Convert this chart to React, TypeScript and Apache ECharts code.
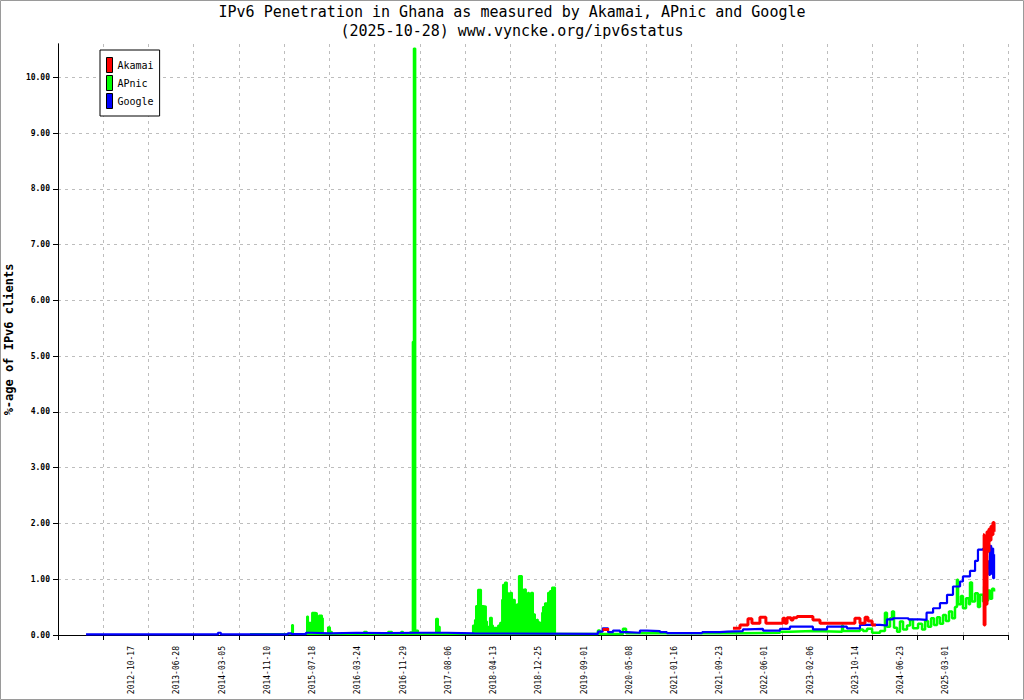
import { useEffect, useRef } from 'react';
import * as echarts from 'echarts';

// x values are sample days counted from the left end of the axis, one tick every 250 days
const xTickLabels = [
  '2012-10-17', '2013-06-28', '2014-03-05', '2014-11-10', '2015-07-18',
  '2016-03-24', '2016-11-29', '2017-08-06', '2018-04-13', '2018-12-25',
  '2019-09-01', '2020-05-08', '2021-01-16', '2021-09-23', '2022-06-01',
  '2023-02-06', '2023-10-14', '2024-06-23', '2025-03-01',
];
const firstLabelDay = 500;
const labelLead = 93; // labels sit a little to the left of their tick

const akamai: [number, number | null][] = [
  [3010, 0.1], [3040, 0.1], [3045, null],
  [3730, 0.12], [3769, 0.18], [3813, 0.29], [3835, 0.21], [3879, 0.32], [3912, 0.21],
  [4006, 0.3], [4017, 0.21], [4029, 0.31], [4051, 0.27], [4062, 0.31], [4084, 0.33],
  [4172, 0.27], [4211, 0.21], [4404, 0.3], [4432, 0.21], [4460, 0.32], [4476, 0.25],
  [4499, 0.18], [4515, 0.18], [4520, null],
  [5112, 1.8], [5118, 0.18], [5123, 1.75], [5129, 0.55], [5134, 1.85], [5140, 1.5],
  [5145, 1.9], [5151, 1.7], [5156, 1.95], [5162, 1.8], [5167, 2.02], [5173, 1.85],
];

// APnic up to the end of 2018 (drawn filled, the daily values swing down to zero)
const apnicEarly: [number, number][] = [
  [1061, 0.02], [1293, 0.18], [1299, 0.02], [1376, 0.33], [1382, 0.22], [1404, 0.4],
  [1420, 0.39], [1431, 0.13], [1442, 0.35], [1459, 0.3], [1464, 0.02], [1492, 0.14],
  [1503, 0.06], [1514, 0.02], [1691, 0.06], [1707, 0.02], [1824, 0.06], [1846, 0.02],
  [1896, 0.06], [1907, 0.02], [1945, 0.05], [1956, 0.02], [1960, 5.26], [1966, 10.52],
  [1975, 0.08], [1990, 0.02], [2089, 0.29], [2100, 0.15], [2110, 0.02],
  [2293, 0.17], [2304, 0.27], [2310, 0.52], [2321, 0.81], [2338, 0.52], [2349, 0.51],
  [2365, 0.24], [2371, 0.15], [2387, 0.31], [2398, 0.17], [2404, 0.13], [2432, 0.17],
  [2443, 0.22], [2454, 0.63], [2459, 0.9], [2470, 0.94], [2481, 0.76], [2487, 0.7],
  [2498, 0.76], [2509, 0.63], [2525, 0.45], [2536, 0.55], [2547, 1.06], [2564, 0.81],
  [2570, 0.82], [2586, 0.48], [2597, 0.76], [2603, 0.6], [2614, 0.76], [2625, 0.37],
  [2636, 0.27], [2647, 0.28], [2652, 0.23], [2664, 0.13], [2675, 0.4], [2680, 0.5],
  [2691, 0.57], [2702, 0.46], [2708, 0.76], [2719, 0.79], [2730, 0.85], [2747, 0.02],
];

const apnicLate: [number, number][] = [
  [2747, 0.02], [2984, 0.08], [2995, 0.02], [3122, 0.11], [3139, 0.03], [3769, 0.04],
  [3990, 0.06], [4045, 0.07], [4172, 0.06], [4333, 0.17], [4338, 0.07], [4432, 0.1],
  [4449, 0.07], [4471, 0.11], [4499, 0.04], [4543, 0.07], [4570, 0.4], [4581, 0.15],
  [4598, 0.3], [4609, 0.42], [4620, 0.13], [4637, 0.06], [4653, 0.24], [4670, 0.1],
  [4692, 0.17], [4709, 0.27], [4725, 0.12], [4753, 0.2], [4775, 0.1], [4792, 0.25],
  [4808, 0.15], [4825, 0.3], [4841, 0.18], [4858, 0.32], [4874, 0.2], [4891, 0.36],
  [4907, 0.25], [4924, 0.42], [4941, 0.3], [4957, 0.5], [4968, 0.99], [4974, 0.55],
  [4990, 0.7], [5001, 0.48], [5018, 0.66], [5034, 0.55], [5040, 0.94], [5051, 0.6],
  [5068, 0.75], [5084, 0.5], [5095, 0.72], [5112, 0.6], [5118, 0.87], [5129, 0.62],
  [5140, 0.8], [5151, 0.65], [5162, 0.83], [5173, 0.78],
];

const google: [number, number][] = [
  [155, 0.01], [884, 0.04], [900, 0.01], [1270, 0.03], [1290, 0.015], [1370, 0.04],
  [1400, 0.03], [1500, 0.04], [1650, 0.035], [1800, 0.04], [2000, 0.04], [2150, 0.035],
  [2230, 0.03], [2300, 0.02], [2950, 0.02], [2984, 0.06], [3010, 0.12], [3040, 0.05],
  [3067, 0.08], [3106, 0.05], [3144, 0.04], [3216, 0.08], [3255, 0.07], [3327, 0.05],
  [3365, 0.035], [3530, 0.035], [3560, 0.05], [3658, 0.06], [3700, 0.07], [3785, 0.1],
  [3807, 0.11], [3896, 0.08], [3990, 0.11], [4045, 0.15], [4172, 0.1], [4250, 0.15],
  [4360, 0.12], [4432, 0.18], [4543, 0.17], [4581, 0.28], [4614, 0.3], [4700, 0.28],
  [4760, 0.27], [4800, 0.4], [4836, 0.48], [4874, 0.57], [4913, 0.72], [4946, 0.87],
  [4985, 0.96], [5001, 1.05], [5040, 1.15], [5068, 1.33], [5084, 1.53], [5112, 1.55],
  [5128, 1.42], [5134, 1.2], [5140, 1.32], [5146, 1.08], [5151, 1.6], [5157, 1.1],
  [5162, 1.55], [5168, 1.02], [5173, 1.45],
];

const MONO = '"DejaVu Sans Mono", "Liberation Mono", monospace';

export default function App() {
  const chartRef = useRef<HTMLDivElement>(null);

  useEffect(() => {
    if (!chartRef.current) return;
    const chart = echarts.init(chartRef.current, undefined, { renderer: 'svg' });

    const labelDays = xTickLabels.map((_, i) => firstLabelDay + i * 250 - labelLead);
    const titleStyle = { fontFamily: MONO, fontSize: 15, fontWeight: 'normal', color: '#000' };

    const option = {
      animation: false,
      backgroundColor: '#ffffff',
      textStyle: { fontFamily: MONO },
      title: [
        { text: 'IPv6 Penetration in Ghana as measured by Akamai, APnic and Google', left: 'center', top: 4, padding: 0, textStyle: titleStyle },
        { text: '(2025-10-28) www.vyncke.org/ipv6status', left: 'center', top: 23, padding: 0, textStyle: titleStyle },
      ],
      legend: {
        data: ['Akamai', 'APnic', 'Google'],
        orient: 'vertical',
        left: 100,
        top: 50,
        padding: [7, 6, 7, 6],
        itemWidth: 6,
        itemHeight: 15,
        itemGap: 2,
        icon: 'rect',
        borderColor: '#000',
        borderWidth: 1,
        backgroundColor: '#fff',
        itemStyle: { borderColor: '#000', borderWidth: 1 },
        textStyle: { fontFamily: MONO, fontSize: 10, color: '#000' },
      },
      graphic: [
        {
          type: 'rect',
          silent: true,
          shape: { x: 0.5, y: 0.5, width: 1023, height: 699 },
          style: { fill: 'none', stroke: '#9a9a9a', lineWidth: 1 },
        },
      ],
      grid: { left: 58, right: 16, top: 44, bottom: 65, containLabel: false, outerBoundsMode: 'none' },
      xAxis: [
        {
          type: 'value',
          min: 0,
          max: 5250,
          interval: 250,
          axisLine: { show: true, lineStyle: { color: '#000', width: 1 } },
          axisTick: { show: true, length: 5, lineStyle: { color: '#000' } },
          splitLine: { show: true, lineStyle: { color: '#bdbdbd', type: [3, 4] } },
          axisLabel: { show: false },
        },
        {
          type: 'value',
          position: 'bottom',
          min: 0,
          max: 5250,
          axisLine: { show: false },
          axisTick: { show: false },
          splitLine: { show: false },
          axisLabel: {
            customValues: labelDays,
            rotate: 90,
            margin: 11,
            fontFamily: MONO,
            fontSize: 8,
            color: '#000',
            formatter: (v: number) => xTickLabels[Math.round((v + labelLead - firstLabelDay) / 250)] ?? '',
          },
        },
      ],
      yAxis: [
        {
          type: 'value',
          min: 0,
          max: 10.6,
          interval: 1,
          name: '%-age of IPv6 clients',
          nameLocation: 'middle',
          nameGap: 41,
          nameRotate: 90,
          nameTextStyle: { fontFamily: MONO, fontSize: 12, fontWeight: 'bold', color: '#000' },
          axisLine: { show: true, lineStyle: { color: '#000', width: 1 } },
          axisTick: { show: true, length: 5, lineStyle: { color: '#000' } },
          splitLine: { show: true, showMaxLine: false, lineStyle: { color: '#bdbdbd', type: [3, 4] } },
          axisLabel: {
            showMaxLabel: false,
            margin: 8,
            fontFamily: MONO,
            fontSize: 8,
            fontWeight: 'bold',
            color: '#000',
            formatter: (v: number) => (v > 10.5 ? '' : v.toFixed(2)),
          },
        },
        {
          type: 'value',
          position: 'right',
          min: 0,
          max: 10.6,
          axisLine: { show: true, lineStyle: { color: '#000', width: 1 } },
          axisTick: { show: false },
          axisLabel: { show: false },
          splitLine: { show: false },
        },
      ],
      series: [
        {
          name: 'APnic',
          type: 'line',
          step: 'end',
          showSymbol: false,
          data: apnicEarly,
          lineStyle: { color: '#00ff00', width: 2 },
          itemStyle: { color: '#00ff00' },
          areaStyle: { color: '#00ff00', opacity: 1 },
        },
        {
          name: 'APnic',
          type: 'line',
          step: 'end',
          showSymbol: false,
          data: apnicLate,
          lineStyle: { color: '#00ff00', width: 2.5 },
          itemStyle: { color: '#00ff00' },
        },
        {
          name: 'Google',
          type: 'line',
          step: 'end',
          showSymbol: false,
          data: google,
          lineStyle: { color: '#0000ff', width: 2.2 },
          itemStyle: { color: '#0000ff' },
        },
        {
          name: 'Akamai',
          type: 'line',
          step: 'end',
          showSymbol: false,
          connectNulls: false,
          data: akamai,
          lineStyle: { color: '#ff0000', width: 3 },
          itemStyle: { color: '#ff0000' },
        },
      ],
    };

    chart.setOption(option);
    return () => chart.dispose();
  }, []);

  return (
    <div
      ref={chartRef}
      style={{ position: 'fixed', left: 0, top: 0, width: 1024, height: 700 }}
    />
  );
}
